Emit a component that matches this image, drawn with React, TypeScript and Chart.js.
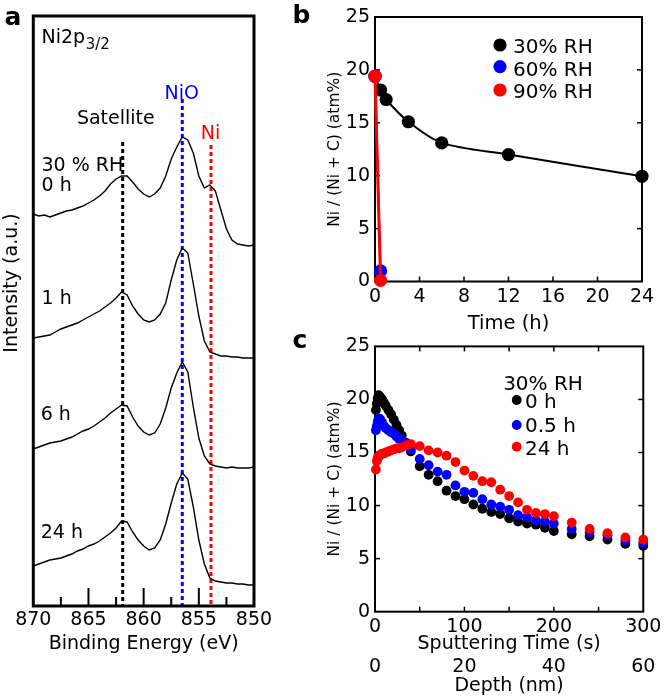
import React, { useEffect, useRef } from "react";
import { Chart, registerables } from "chart.js";

Chart.register(...registerables);

const FONT = "'DejaVu Sans', 'Liberation Sans', sans-serif";
Chart.defaults.font.family = FONT;
Chart.defaults.color = "#000";

// ---------------- Panel a : Ni2p3/2 spectra (intensity in a.u., stacked) ----------------
const bindingEnergy = [
  870, 869.5, 869, 868.5, 868, 867.5, 867, 866.5, 866, 865.5, 865, 864.5, 864, 863.5, 863,
  862.5, 862, 861.5, 861, 860.5, 860, 859.5, 859, 858.5, 858, 857.5, 857, 856.5, 856, 855.5,
  855, 854.5, 854, 853.5, 853, 852.5, 852, 851.5, 851, 850.5, 850,
];
const spectrum0h = [
  392, 390, 391, 389, 391, 393, 395, 396, 398, 400, 403, 406, 410, 415, 422, 427, 430, 430, 424,
  417, 412, 409, 412, 418, 430, 447, 459, 469, 466, 453, 430, 418, 421, 415, 396, 377, 366, 362,
  361, 360, 361,
];
const spectrum1h = [
  268, 269, 270, 271, 274, 277, 279, 281, 283, 286, 289, 292, 295, 299, 303, 308, 314, 311, 300,
  292, 286, 284, 286, 292, 303, 326, 346, 358, 353, 322, 290, 265, 254, 252, 250, 250, 249, 249,
  248, 248, 248,
];
const spectrum6h = [
  157, 159, 161, 163, 164, 165, 167, 169, 172, 175, 177, 180, 184, 188, 193, 197, 201, 200, 189,
  180, 174, 171, 173, 182, 198, 218, 233, 244, 234, 199, 168, 150, 142, 140, 139, 138, 139, 138,
  138, 138, 139,
];
const spectrum24h = [
  40, 42, 44, 46, 47, 48, 50, 52, 55, 57, 60, 62, 65, 69, 73, 78, 85, 84, 74, 66, 60, 56, 58, 66,
  82, 103, 122, 133, 127, 99, 66, 42, 28, 25, 24, 23, 23, 22, 22, 21, 21,
];
const peakEnergies = [861.9, 856.5, 853.9]; // Satellite, NiO, Ni
const peakLineTops = [464, 507, 461];
const peakColors = ["#000000", "#0000ff", "#ff0000"];
const spectrumLabels = ["0 h", "1 h", "6 h", "24 h"];

// ---------------- Panel b : Ni/(Ni+C) vs time ----------------
const timeRH30 = [0, 0.5, 1, 3, 6, 12, 24];
const valueRH30 = [19.4, 18.1, 17.2, 15.1, 13.1, 12.0, 9.95];
const timeRH60 = [0, 0.5];
const valueRH60 = [19.4, 1.0];
const timeRH90 = [0, 0.5];
const valueRH90 = [19.4, 0.1];
const legendB = ["30% RH", "60% RH", "90% RH"];

// ---------------- Panel c : depth profiles (30% RH) ----------------
const sputterTime = [
  1, 2, 3, 4, 5, 6, 8, 10, 12, 15, 18, 21, 24, 27, 30, 35, 40, 50, 60, 70, 80, 90, 100, 110, 120,
  130, 140, 150, 160, 170, 180, 190, 200, 220, 240, 260, 280, 300,
];
const profile0h = [
  19.0, 19.6, 20.1, 20.4, 20.3, 20.2, 20.0, 19.7, 19.4, 19.0, 18.6, 18.1, 17.6, 17.1, 16.6, 15.9,
  15.1, 13.7, 12.9, 12.3, 11.4, 10.9, 10.6, 10.1, 9.7, 9.4, 9.2, 8.8, 8.5, 8.3, 8.2, 7.9, 7.6, 7.3,
  7.1, 6.8, 6.4, 6.2,
];
const profile05h = [
  17.1, 17.5, 17.9, 18.1, 18.2, 18.1, 17.8, 17.5, 17.3, 17.1, 16.9, 16.8, 16.5, 16.3, 16.2, 15.8,
  15.3, 14.4, 13.8, 13.2, 12.9, 11.9, 11.3, 11.2, 10.6, 10.1, 9.9, 9.6, 9.1, 8.9, 8.6, 8.5, 8.3,
  7.8, 7.5, 7.2, 6.7, 6.5,
];
const profile24h = [
  13.4, 14.2, 14.5, 14.6, 14.7, 14.8, 14.9, 14.9, 15.0, 15.1, 15.2, 15.3, 15.4, 15.4, 15.5, 15.7,
  15.8, 15.6, 15.2, 15.0, 14.7, 14.1, 13.3, 12.8, 12.3, 12.2, 11.5, 10.9, 10.3, 9.6, 9.3, 9.2, 9.0,
  8.4, 7.8, 7.4, 7.0, 6.8,
];
const legendC = ["0 h", "0.5 h", "24 h"];

// ---------------- helpers ----------------
const pts = (xs: number[], ys: number[]) => xs.map((x, i) => ({ x, y: ys[i] }));

function drawText(
  ctx: CanvasRenderingContext2D,
  s: string,
  x: number,
  y: number,
  size: number,
  color = "#000",
  align: CanvasTextAlign = "left",
  weight = "normal"
) {
  ctx.save();
  ctx.font = `${weight} ${size}px ${FONT}`;
  ctx.fillStyle = color;
  ctx.textAlign = align;
  ctx.textBaseline = "alphabetic";
  ctx.fillText(s, x, y);
  ctx.restore();
}

function drawBox(chart: any, lw: number) {
  const { ctx, chartArea } = chart;
  const { left, top, right, bottom } = chartArea;
  ctx.save();
  ctx.strokeStyle = "#000";
  ctx.lineWidth = lw;
  ctx.strokeRect(left, top, right - left, bottom - top);
  ctx.restore();
}

function tickLine(ctx: CanvasRenderingContext2D, x1: number, y1: number, x2: number, y2: number, lw: number) {
  ctx.save();
  ctx.strokeStyle = "#000";
  ctx.lineWidth = lw;
  ctx.beginPath();
  ctx.moveTo(x1, y1);
  ctx.lineTo(x2, y2);
  ctx.stroke();
  ctx.restore();
}

const noGrid = { display: false, drawTicks: false, drawOnChartArea: false };

// ---------------- chart configs ----------------
function makeA(): any {
  const spectra = [spectrum0h, spectrum1h, spectrum6h, spectrum24h];
  return {
    type: "line",
    data: {
      datasets: [
        ...spectra.map((s) => ({
          data: pts(bindingEnergy, s),
          borderColor: "#000",
          borderWidth: 1.4,
          pointRadius: 0,
          tension: 0,
          fill: false,
        })),
        ...peakEnergies.map((e, i) => ({
          data: [
            { x: e, y: peakLineTops[i] },
            { x: e, y: 0 },
          ],
          borderColor: peakColors[i],
          borderWidth: 3,
          borderDash: [4, 3],
          pointRadius: 0,
          fill: false,
        })),
      ],
    },
    options: {
      responsive: false,
      animation: false,
      devicePixelRatio: 1,
      layout: { padding: { left: 33.3, top: 16, right: 76, bottom: 0 } },
      plugins: { legend: { display: false }, tooltip: { enabled: false } },
      scales: {
        x: {
          type: "linear",
          reverse: true,
          min: 850,
          max: 870,
          ticks: { stepSize: 5, font: { size: 19 }, padding: 2.6, color: "#000" },
          grid: noGrid,
          border: { display: false },
          title: {
            display: true,
            text: "Binding Energy (eV)",
            font: { size: 19 },
            color: "#000",
            padding: { top: 0, bottom: 44.9 },
          },
          afterFit: (s: any) => {
            s.height = 94;
          },
        },
        y: { type: "linear", min: 0, max: 590, display: false },
      },
    },
    plugins: [
      {
        id: "panelA",
        afterDraw(chart: any) {
          const { ctx, chartArea } = chart;
          const xs = chart.scales.x;
          drawBox(chart, 3);
          [865, 860, 855].forEach((v) => {
            const px = xs.getPixelForValue(v);
            tickLine(ctx, px, chartArea.bottom, px, chartArea.bottom - 18, 2);
          });
          [867.5, 862.5, 857.5, 852.5].forEach((v) => {
            const px = xs.getPixelForValue(v);
            tickLine(ctx, px, chartArea.bottom, px, chartArea.bottom - 9, 2);
          });
          // Ni2p3/2
          ctx.save();
          ctx.font = `normal 19px ${FONT}`;
          const w = ctx.measureText("Ni2p").width;
          ctx.restore();
          drawText(ctx, "Ni2p", 41.5, 43, 19);
          drawText(ctx, "3/2", 41.5 + w + 0.5, 49, 15);
          drawText(ctx, "NiO", 181.7, 98.6, 19, "#0000ff", "center");
          drawText(ctx, "Satellite", 115.8, 124, 19, "#000", "center");
          drawText(ctx, "Ni", 210.5, 139, 19, "#ff0000", "center");
          drawText(ctx, "30 % RH", 41.5, 171, 19);
          drawText(ctx, spectrumLabels[0], 41.5, 190.7, 19);
          drawText(ctx, spectrumLabels[1], 41.5, 304, 19);
          drawText(ctx, spectrumLabels[2], 40.7, 420, 19);
          drawText(ctx, spectrumLabels[3], 40.7, 537.7, 19);
          // y title
          ctx.save();
          ctx.translate(10, 283);
          ctx.rotate(-Math.PI / 2);
          ctx.font = `normal 19px ${FONT}`;
          ctx.fillStyle = "#000";
          ctx.textAlign = "center";
          ctx.textBaseline = "alphabetic";
          ctx.fillText("Intensity (a.u.)", 0, 6.9);
          ctx.restore();
          // panel letters
          drawText(ctx, "a", 4.5, 25, 25, "#000", "left", "bold");
          drawText(ctx, "b", 292.5, 23.3, 25, "#000", "left", "bold");
          drawText(ctx, "c", 292.5, 348, 25, "#000", "left", "bold");
        },
      },
    ],
  };
}

function yAxis(extra: any = {}) {
  return {
    type: "linear",
    min: 0,
    max: 25,
    ticks: { stepSize: 5, font: { size: 19 }, padding: 5, color: "#000" },
    grid: noGrid,
    border: { display: false },
    title: {
      display: true,
      text: "Ni / (Ni + C) (atm%)",
      font: { size: 15.5 },
      color: "#000",
      padding: { top: 5.7, bottom: 0 },
    },
    afterFit: (s: any) => {
      s.width = 55;
    },
    ...extra,
  };
}

function makeB(): any {
  return {
    type: "line",
    data: {
      datasets: [
        {
          data: pts(timeRH90, valueRH90),
          borderColor: "#ff0000",
          backgroundColor: "#ff0000",
          borderWidth: 3,
          pointRadius: 6.6,
          pointBorderWidth: 0,
          pointBackgroundColor: "#ff0000",
          clip: false,
        },
        {
          data: pts(timeRH60, valueRH60),
          borderColor: "#0000ff",
          backgroundColor: "#0000ff",
          borderWidth: 2,
          pointRadius: 6.6,
          pointBorderWidth: 0,
          pointBackgroundColor: "#0000ff",
          clip: false,
        },
        {
          data: pts(timeRH30, valueRH30),
          borderColor: "#000",
          backgroundColor: "#000",
          borderWidth: 2,
          tension: 0.3,
          pointRadius: 6.6,
          pointBorderWidth: 0,
          pointBackgroundColor: "#000",
          clip: false,
        },
      ],
    },
    options: {
      responsive: false,
      animation: false,
      devicePixelRatio: 1,
      layout: { padding: { left: 0, top: 17, right: 23, bottom: 0 } },
      plugins: { legend: { display: false }, tooltip: { enabled: false } },
      scales: {
        x: {
          type: "linear",
          min: 0,
          max: 24,
          ticks: { stepSize: 4, font: { size: 19 }, padding: 3.8, color: "#000" },
          grid: noGrid,
          border: { display: false },
          title: {
            display: true,
            text: "Time (h)",
            font: { size: 19.5 },
            color: "#000",
            padding: { top: 0, bottom: 4 },
          },
          afterFit: (s: any) => {
            s.height = 58.5;
          },
        },
        y: yAxis(),
      },
    },
    plugins: [
      {
        id: "panelB",
        beforeDatasetsDraw(chart: any) {
          const { ctx, chartArea } = chart;
          const { left, right, bottom } = chartArea;
          drawBox(chart, 2);
          [5, 10, 15, 20].forEach((v) => {
            const py = chart.scales.y.getPixelForValue(v);
            tickLine(ctx, left, py, left + 5, py, 1.5);
            tickLine(ctx, right, py, right - 5, py, 1.5);
          });
          [4, 8, 12, 16, 20].forEach((v) => {
            const px = chart.scales.x.getPixelForValue(v);
            tickLine(ctx, px, bottom, px, bottom - 5, 1.5);
          });
        },
        afterDatasetsDraw(chart: any) {
          const { ctx } = chart;
          const colors = ["#000", "#0000ff", "#ff0000"];
          const cy = [45, 66.7, 90];
          const by = [53.3, 76, 98.3];
          legendB.forEach((lab, i) => {
            ctx.save();
            ctx.fillStyle = colors[i];
            ctx.beginPath();
            ctx.arc(180, cy[i], 6.6, 0, Math.PI * 2);
            ctx.fill();
            ctx.restore();
            drawText(ctx, lab, 193, by[i], 20);
          });
        },
      },
    ],
  };
}

function makeC(): any {
  const series = [
    { d: profile24h, c: "#ff0000" },
    { d: profile05h, c: "#0000ff" },
    { d: profile0h, c: "#000000" },
  ];
  return {
    type: "line",
    data: {
      datasets: series.map((s) => ({
        data: pts(sputterTime, s.d),
        showLine: false,
        borderColor: s.c,
        backgroundColor: s.c,
        pointBackgroundColor: s.c,
        pointBorderWidth: 0,
        pointRadius: 4.9,
        clip: false,
      })),
    },
    options: {
      responsive: false,
      animation: false,
      devicePixelRatio: 1,
      layout: { padding: { left: 0, top: 15, right: 21.7, bottom: 0 } },
      plugins: { legend: { display: false }, tooltip: { enabled: false } },
      scales: {
        x: {
          type: "linear",
          position: "bottom",
          weight: 0,
          min: 0,
          max: 300,
          ticks: { stepSize: 100, font: { size: 19 }, padding: 3.6, color: "#000" },
          grid: noGrid,
          border: { display: false },
          title: {
            display: true,
            text: "Sputtering Time (s)",
            font: { size: 19, lineHeight: 1 },
            color: "#000",
            padding: { top: 0, bottom: 0 },
          },
          afterFit: (s: any) => {
            s.height = 42;
          },
        },
        x2: {
          type: "linear",
          position: "bottom",
          weight: 1,
          min: 0,
          max: 60,
          ticks: { stepSize: 20, font: { size: 19 }, padding: 1.6, color: "#000" },
          grid: noGrid,
          border: { display: false },
          title: {
            display: true,
            text: "Depth (nm)",
            font: { size: 19 },
            color: "#000",
            padding: { top: 0, bottom: 3 },
          },
          afterFit: (s: any) => {
            s.height = 46.3;
          },
        },
        y: yAxis(),
      },
    },
    plugins: [
      {
        id: "panelC",
        beforeDatasetsDraw(chart: any) {
          const { ctx, chartArea } = chart;
          const { left, right, top, bottom } = chartArea;
          drawBox(chart, 2);
          [5, 10, 15, 20].forEach((v) => {
            const py = chart.scales.y.getPixelForValue(v);
            tickLine(ctx, left, py, left + 5, py, 1.5);
            tickLine(ctx, right, py, right - 5, py, 1.5);
          });
          [50, 100, 150, 200, 250].forEach((v) => {
            const px = chart.scales.x.getPixelForValue(v);
            tickLine(ctx, px, bottom, px, bottom - 5, 1.5);
            tickLine(ctx, px, top, px, top + 5, 1.5);
          });
        },
        afterDatasetsDraw(chart: any) {
          const { ctx } = chart;
          drawText(ctx, "30% RH", 223, 60, 20, "#000", "center");
          const colors = ["#000", "#0000ff", "#ff0000"];
          const cy = [70, 95, 116.7];
          const by = [78, 101.7, 125];
          legendC.forEach((lab, i) => {
            ctx.save();
            ctx.fillStyle = colors[i];
            ctx.beginPath();
            ctx.arc(196.7, cy[i], 4.9, 0, Math.PI * 2);
            ctx.fill();
            ctx.restore();
            drawText(ctx, lab, 205, by[i], 20);
          });
        },
      },
    ],
  };
}

function ChartCanvas(props: { make: () => any; left: number; top: number; width: number; height: number }) {
  const ref = useRef<HTMLCanvasElement>(null);
  useEffect(() => {
    if (!ref.current) return;
    const chart = new Chart(ref.current, props.make());
    return () => chart.destroy();
  }, []);
  return (
    <canvas
      ref={ref}
      width={props.width}
      height={props.height}
      style={{
        position: "absolute",
        left: props.left,
        top: props.top,
        width: props.width,
        height: props.height,
      }}
    />
  );
}

export default function App() {
  return (
    <div
      style={{
        position: "absolute",
        left: 0,
        top: 0,
        width: 665,
        height: 700,
        background: "#fff",
        overflow: "hidden",
      }}
    >
      <ChartCanvas make={makeA} left={0} top={0} width={330} height={700} />
      <ChartCanvas make={makeB} left={320} top={0} width={345} height={340} />
      <ChartCanvas make={makeC} left={320} top={330} width={345} height={370} />
    </div>
  );
}
